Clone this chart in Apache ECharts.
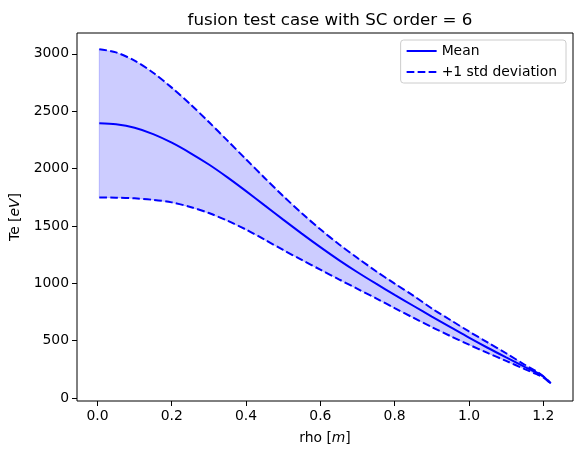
<!DOCTYPE html>
<html>
<head>
<meta charset="utf-8">
<script src="https://cdn.jsdelivr.net/npm/echarts@6/dist/echarts.min.js"></script>
<style>
  html, body { margin: 0; padding: 0; background: #fff; }
  #chart { width: 582px; height: 457px; }
</style>
</head>
<body>
<div id="chart"></div>
<script>
// rho [m]
var rho = [0.005, 0.05, 0.1, 0.15, 0.2, 0.25, 0.3, 0.35, 0.4, 0.45, 0.5, 0.55, 0.6, 0.65,
  0.7, 0.75, 0.8, 0.85, 0.9, 0.95, 1.0, 1.05, 1.1, 1.15, 1.18, 1.2, 1.22]
// Te mean [eV]
var teMean = [2395, 2385, 2355, 2300, 2225, 2135, 2035, 1923, 1803, 1679, 1555, 1433, 1315, 1202,
  1096, 996, 899, 804, 710, 618, 526, 438, 354, 272, 225, 187, 128]
// mean + 1 std
var teUpper = [3040, 3012, 2940, 2835, 2705, 2560, 2405, 2243, 2080, 1918, 1760, 1610, 1470, 1340,
  1220, 1105, 997, 893, 780, 680, 580, 485, 390, 290, 235, 190, 130]
// mean - 1 std
var teLower = [1747, 1746, 1740, 1727, 1705, 1665, 1612, 1545, 1468, 1380, 1290, 1203, 1118, 1034,
  951, 869, 783, 700, 618, 540, 465, 393, 323, 252, 210, 180, 125]
var xTicks = [0, 0.2, 0.4, 0.6, 0.8, 1.0, 1.2]
var yTicks = [0, 500, 1000, 1500, 2000, 2500, 3000]

var font = 'DejaVu Sans'
function pairs(ys) {
  return rho.map(function (x, i) { return [x, ys[i]] })
}

var chart = echarts.init(document.getElementById('chart'))
var option = {
  animation: false,
  textStyle: { fontFamily: font },
  title: {
    text: 'fusion test case with SC order = 6',
    left: 325,
    textAlign: 'center',
    top: 7,
    textStyle: { fontFamily: font, fontSize: 16.7, fontWeight: 'normal', color: '#000' }
  },
  legend: {
    data: ['Mean', '+1 std deviation'],
    orient: 'vertical',
    right: 16,
    top: 40,
    itemWidth: 30,
    itemHeight: 14,
    itemGap: 7,
    padding: [4, 9, 4, 5],
    backgroundColor: '#fff',
    borderColor: '#cccccc',
    borderWidth: 1,
    borderRadius: 3,
    itemStyle: { opacity: 0 },
    textStyle: { fontFamily: font, fontSize: 13.9, color: '#000' }
  },
  grid: {
    left: 77, right: 9, top: 33, bottom: 56,
    show: true, borderColor: '#000', borderWidth: 1, backgroundColor: 'transparent'
  },
  xAxis: {
    type: 'value',
    min: -0.055,
    max: 1.28,
    name: 'rho [{i|m}]',
    nameLocation: 'middle',
    nameGap: 30,
    nameTextStyle: {
      fontFamily: font, fontSize: 13.9, color: '#000',
      rich: { i: { fontFamily: font, fontSize: 13.9, fontStyle: 'italic', color: '#000' } }
    },
    axisLine: { show: false, onZero: false },
    axisTick: { show: true, length: 5, lineStyle: { color: '#000' }, customValues: xTicks },
    axisLabel: {
      customValues: xTicks, margin: 8, fontSize: 13.9, color: '#000', fontFamily: font,
      formatter: function (v) { return v.toFixed(1) }
    },
    splitLine: { show: false }
  },
  yAxis: {
    type: 'value',
    min: -26,
    max: 3181,
    name: 'Te [{i|eV}]',
    nameLocation: 'middle',
    nameRotate: 90,
    nameGap: 50,
    nameTextStyle: {
      fontFamily: font, fontSize: 13.9, color: '#000',
      rich: { i: { fontFamily: font, fontSize: 13.9, fontStyle: 'italic', color: '#000' } }
    },
    axisLine: { show: false, onZero: false },
    axisTick: { show: true, length: 5, lineStyle: { color: '#000' }, customValues: yTicks },
    axisLabel: {
      customValues: yTicks, margin: 8, fontSize: 13.9, color: '#000', fontFamily: font,
      formatter: function (v) { return String(v) }
    },
    splitLine: { show: false }
  },
  series: [
    {
      // shaded band between lower and upper
      name: 'band',
      type: 'custom',
      silent: true,
      data: [0],
      renderItem: function (params, api) {
        var pts = []
        for (var i = 0; i < rho.length; i++) pts.push(api.coord([rho[i], teUpper[i]]))
        for (var j = rho.length - 1; j >= 0; j--) pts.push(api.coord([rho[j], teLower[j]]))
        return {
          type: 'polygon',
          shape: { points: pts, smooth: 0 },
          style: { fill: 'rgba(0,0,255,0.2)', stroke: 'rgba(0,0,255,0.2)', lineWidth: 1 }
        }
      },
      z: 1
    },
    {
      name: 'Mean',
      type: 'line',
      data: pairs(teMean),
      smooth: 0.3,
      symbol: 'none',
      lineStyle: { color: '#0000ff', width: 2 },
      itemStyle: { color: '#0000ff' },
      z: 3
    },
    {
      name: '+1 std deviation',
      type: 'line',
      data: pairs(teUpper),
      smooth: 0.3,
      symbol: 'none',
      lineStyle: { color: '#0000ff', width: 2, type: [7.7, 3.3] },
      itemStyle: { color: '#0000ff' },
      z: 3
    },
    {
      name: '-1 std deviation',
      type: 'line',
      data: pairs(teLower),
      smooth: 0.3,
      symbol: 'none',
      lineStyle: { color: '#0000ff', width: 2, type: [7.7, 3.3] },
      itemStyle: { color: '#0000ff' },
      z: 3
    }
  ]
}
chart.setOption(option)
</script>
</body>
</html>
